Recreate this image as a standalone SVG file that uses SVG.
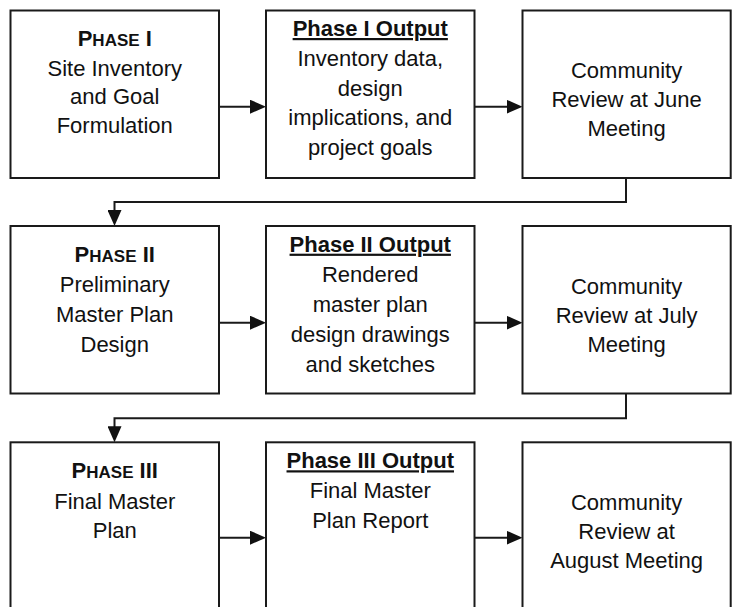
<svg xmlns="http://www.w3.org/2000/svg" width="734" height="607" viewBox="0 0 734 607">
  <defs>
    <!-- filled arrowhead; tip sits 10px beyond the end of the line -->
    <marker id="arrow" markerUnits="userSpaceOnUse" markerWidth="16" markerHeight="14" refX="6" refY="7" orient="auto">
      <path d="M0,0 L16,7 L0,14 Z" fill="#111"/>
    </marker>
    <style>
      .box { fill: #fff; stroke: #1a1a1a; stroke-width: 2; }
      .wire { fill: none; stroke: #1a1a1a; stroke-width: 2; marker-end: url(#arrow); }
      text { font-family: "Liberation Sans", Arial, sans-serif; font-size: 22px; fill: #111; text-anchor: middle; }
      .hd { font-weight: bold; }
      .sc { font-size: 17px; }
      .ul { font-weight: bold; text-decoration: underline; }
    </style>
  </defs>

  <rect width="734" height="607" fill="#fff"/>

  <!-- connectors -->
  <g id="connectors">
    <path class="wire" d="M219,106.7 H256"/>
    <path class="wire" d="M474.5,106.7 H512.5"/>
    <path class="wire" d="M626,178 V202 H114.5 V216"/>
    <path class="wire" d="M219,322.7 H256"/>
    <path class="wire" d="M474.5,322.7 H512.5"/>
    <path class="wire" d="M626,394 V418.3 H114.5 V432.3"/>
    <path class="wire" d="M219,537.7 H256"/>
    <path class="wire" d="M474.5,537.7 H512.5"/>
  </g>

  <!-- row 1 -->
  <g id="phase1">
    <rect class="box" x="10.5" y="10.5" width="208.5" height="167.5"/>
    <text x="114.75" y="46" class="hd">P<tspan class="sc">HASE</tspan> I</text>
    <text x="114.75" y="75.5">Site Inventory</text>
    <text x="114.75" y="104">and Goal</text>
    <text x="114.75" y="132.5">Formulation</text>
  </g>
  <g id="phase1-output">
    <rect class="box" x="266" y="10.5" width="208.5" height="167.5"/>
    <text x="370.25" y="36" class="ul">Phase I Output</text>
    <text x="370.25" y="65.5">Inventory data,</text>
    <text x="370.25" y="95.5">design</text>
    <text x="370.25" y="125">implications, and</text>
    <text x="370.25" y="154.5">project goals</text>
  </g>
  <g id="review-june">
    <rect class="box" x="522.5" y="10.5" width="208.2" height="167.5"/>
    <text x="626.6" y="77.5">Community</text>
    <text x="626.6" y="106.5">Review at June</text>
    <text x="626.6" y="135.5">Meeting</text>
  </g>

  <!-- row 2 -->
  <g id="phase2">
    <rect class="box" x="10.5" y="226" width="208.5" height="167.5"/>
    <text x="114.75" y="261.7" class="hd">P<tspan class="sc">HASE</tspan> II</text>
    <text x="114.75" y="291.7">Preliminary</text>
    <text x="114.75" y="321.7">Master Plan</text>
    <text x="114.75" y="351.7">Design</text>
  </g>
  <g id="phase2-output">
    <rect class="box" x="266" y="226" width="208.5" height="167.5"/>
    <text x="370.25" y="251.7" class="ul">Phase II Output</text>
    <text x="370.25" y="281.7">Rendered</text>
    <text x="370.25" y="311.7">master plan</text>
    <text x="370.25" y="341.7">design drawings</text>
    <text x="370.25" y="371.7">and sketches</text>
  </g>
  <g id="review-july">
    <rect class="box" x="522.5" y="226" width="208.2" height="167.5"/>
    <text x="626.6" y="293.5">Community</text>
    <text x="626.6" y="322.5">Review at July</text>
    <text x="626.6" y="351.5">Meeting</text>
  </g>

  <!-- row 3 (boxes run past the lower edge) -->
  <g id="phase3">
    <rect class="box" x="10.5" y="442.3" width="208.5" height="175"/>
    <text x="114.75" y="478.3" class="hd">P<tspan class="sc">HASE</tspan> III</text>
    <text x="114.75" y="508.8">Final Master</text>
    <text x="114.75" y="538.3">Plan</text>
  </g>
  <g id="phase3-output">
    <rect class="box" x="266" y="442.3" width="208.5" height="175"/>
    <text x="370.25" y="468.3" class="ul">Phase III Output</text>
    <text x="370.25" y="498.3">Final Master</text>
    <text x="370.25" y="528.3">Plan Report</text>
  </g>
  <g id="review-august">
    <rect class="box" x="522.5" y="442.3" width="208.2" height="175"/>
    <text x="626.6" y="510">Community</text>
    <text x="626.6" y="538.5">Review at</text>
    <text x="626.6" y="568">August Meeting</text>
  </g>
</svg>
